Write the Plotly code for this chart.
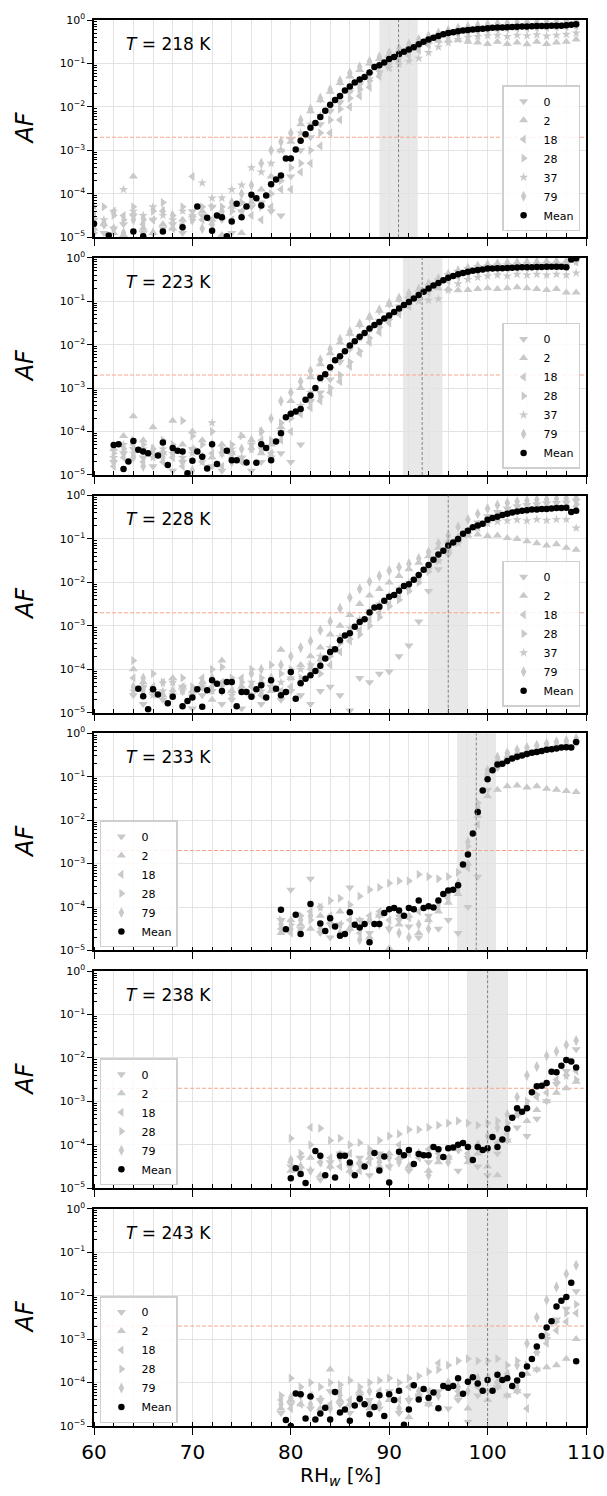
import plotly.graph_objects as go
from plotly.subplots import make_subplots

TEMPS = [218, 223, 228, 233, 238, 243]
BAND_LO = [89.0, 91.4, 94.0, 96.9, 98.0, 98.0]
BAND_HI = [92.9, 95.4, 98.0, 100.85, 102.0, 102.0]
BAND_MID = [90.95, 93.35, 96.0, 98.85, 100.0, 100.0]
THRESHOLD_AF = 2e-3
GRAY_RH_START = [60, 62, 64, 79, 80, 79]
Y_TICK_VALS = [1e-5, 1e-4, 1e-3, 1e-2, 1e-1, 1]
Y_TICK_TEXT = ["10<sup>\u22125</sup>", "10<sup>\u22124</sup>", "10<sup>\u22123</sup>",
               "10<sup>\u22122</sup>", "10<sup>\u22121</sup>", "10<sup>0</sup>"]

# ---------------- Mean series (log10 AF) ----------------
RH_MEAN_218 = [60, 61.5, 64, 65, 67, 69, 70.5, 71.5, 72, 72.5, 73, 73.5, 74, 74.5, 75, 75.5, 76, 76.5, 77, 77.5,
               78, 78.5, 79, 79.5, 80, 80.5, 81, 81.5, 82, 82.5, 83, 83.5, 84, 84.5, 85, 85.5, 86, 86.5, 87, 87.5,
               88, 88.5, 89, 89.5, 90, 90.5, 91, 91.5, 92, 92.5, 93, 93.5, 94, 94.5, 95, 95.5, 96, 96.5, 97, 97.5,
               98, 98.5, 99, 99.5, 100, 100.5, 101, 101.5, 102, 102.5, 103, 103.5, 104, 104.5, 105, 105.5, 106,
               106.5, 107, 107.5, 108, 108.5, 109]
LOG_MEAN_218 = [-4.69, -4.96, -4.87, -4.98, -4.87, -4.77, -4.29, -4.55, -4.85, -4.50, -4.54, -4.98, -4.64, -4.23,
                -4.54, -4.29, -4.02, -4.10, -4.27, -4.04, -3.78, -3.67, -3.58, -3.19, -3.19, -2.98, -2.78, -2.63,
                -2.48, -2.37, -2.23, -2.09, -1.95, -1.84, -1.75, -1.62, -1.53, -1.44, -1.37, -1.31, -1.21, -1.08,
                -1.04, -0.98, -0.90, -0.85, -0.78, -0.73, -0.68, -0.63, -0.56, -0.50, -0.45, -0.41, -0.37, -0.33,
                -0.30, -0.28, -0.26, -0.24, -0.23, -0.22, -0.21, -0.20, -0.19, -0.18, -0.175, -0.17, -0.165, -0.16,
                -0.155, -0.15, -0.15, -0.145, -0.14, -0.14, -0.14, -0.135, -0.13, -0.13, -0.12, -0.11, -0.10]

RH_MEAN_223 = [62, 62.5, 63, 63.5, 64, 64.5, 65, 65.5, 66.5, 67, 67.5, 68, 68.5, 69, 69.5, 70, 70.5, 71, 71.5, 72,
               72.5, 73.5, 74, 74.5, 75.5, 76.5, 77, 77.5, 78, 78.5, 79, 79.5, 80, 80.5, 81, 81.5, 82, 82.5, 83,
               83.5, 84, 84.5, 85, 85.5, 86, 86.5, 87, 87.5, 88, 88.5, 89, 89.5, 90, 90.5, 91, 91.5, 92, 92.5, 93,
               93.5, 94, 94.5, 95, 95.5, 96, 96.5, 97, 97.5, 98, 98.5, 99, 99.5, 100, 100.5, 101, 101.5, 102,
               102.5, 103, 103.5, 104, 104.5, 105, 105.5, 106, 106.5, 107, 107.5, 108, 108.5, 109]
LOG_MEAN_223 = [-4.31, -4.29, -4.86, -4.69, -4.22, -4.42, -4.46, -4.50, -4.55, -4.25, -4.77, -4.38, -4.44, -4.46,
                -4.96, -4.67, -4.46, -4.58, -4.85, -4.29, -4.75, -4.44, -4.66, -4.66, -4.71, -4.72, -4.29, -4.38,
                -4.66, -4.23, -4.04, -3.67, -3.59, -3.54, -3.48, -3.27, -3.17, -3.00, -2.77, -2.68, -2.52, -2.36,
                -2.27, -2.15, -2.02, -1.92, -1.82, -1.73, -1.63, -1.55, -1.48, -1.40, -1.33, -1.25, -1.17, -1.09,
                -1.02, -0.94, -0.86, -0.78, -0.71, -0.64, -0.58, -0.52, -0.46, -0.42, -0.38, -0.35, -0.32, -0.30,
                -0.28, -0.27, -0.25, -0.25, -0.24, -0.24, -0.235, -0.23, -0.225, -0.22, -0.22, -0.22, -0.215,
                -0.215, -0.21, -0.21, -0.21, -0.21, -0.22, -0.04, -0.01]

RH_MEAN_228 = [64.5, 65, 65.5, 66, 66.5, 67.5, 68, 69, 69.5, 70, 70.5, 71, 71.5, 72, 72.5, 73, 73.5, 74, 74.5, 75,
               75.5, 76, 76.5, 77, 77.5, 78, 78.5, 79, 79.5, 80, 80.5, 81, 81.5, 82, 82.5, 83, 83.5, 84, 84.5, 85,
               85.5, 86, 86.5, 87, 87.5, 88, 88.5, 89, 89.5, 90, 90.5, 91, 91.5, 92, 92.5, 93, 93.5, 94, 94.5, 95,
               95.5, 96, 96.5, 97, 97.5, 98, 98.5, 99, 99.5, 100, 100.5, 101, 101.5, 102, 102.5, 103, 103.5, 104,
               104.5, 105, 105.5, 106, 106.5, 107, 107.5, 108, 108.5, 109]
LOG_MEAN_228 = [-4.45, -4.62, -4.92, -4.46, -4.58, -4.78, -4.63, -4.85, -4.73, -4.65, -4.46, -4.86, -4.48, -4.25,
                -4.33, -4.50, -4.29, -4.29, -4.85, -4.52, -4.52, -4.63, -4.46, -4.37, -4.65, -4.25, -4.45, -4.60,
                -4.52, -4.06, -4.68, -4.32, -4.22, -4.14, -4.04, -3.92, -3.75, -3.60, -3.54, -3.33, -3.22, -3.17,
                -3.02, -2.91, -2.85, -2.69, -2.58, -2.56, -2.42, -2.33, -2.29, -2.19, -2.08, -2.04, -1.94, -1.83,
                -1.71, -1.60, -1.48, -1.36, -1.27, -1.15, -1.08, -1.00, -0.88, -0.81, -0.73, -0.69, -0.65, -0.56,
                -0.52, -0.49, -0.45, -0.42, -0.39, -0.37, -0.35, -0.34, -0.32, -0.32, -0.31, -0.31, -0.30, -0.29,
                -0.29, -0.28, -0.38, -0.35]

RH_MEAN_233 = [79, 79.5, 80.5, 81, 82, 83, 83.5, 84, 84.5, 85, 85.5, 86, 86.5, 87, 87.5, 88, 88.5, 89, 89.5, 90,
               90.5, 91, 91.5, 92, 92.5, 93, 93.5, 94, 94.5, 95, 95.5, 96, 96.5, 97, 97.5, 98, 98.5, 99, 99.5, 100,
               100.5, 101, 101.5, 102, 102.5, 103, 103.5, 104, 104.5, 105, 105.5, 106, 106.5, 107, 107.5, 108,
               108.5, 109]
LOG_MEAN_233 = [-4.06, -4.51, -4.18, -4.62, -3.93, -4.38, -4.55, -4.26, -4.45, -4.66, -4.62, -4.12, -4.41, -4.47,
                -4.39, -4.81, -4.39, -4.39, -4.14, -4.05, -4.02, -4.08, -4.20, -4.02, -4.05, -3.85, -4.02, -3.98,
                -4.01, -3.85, -3.70, -3.62, -3.60, -3.50, -3.02, -2.79, -2.31, -1.81, -1.32, -1.06, -0.85, -0.72,
                -0.70, -0.64, -0.58, -0.54, -0.51, -0.48, -0.45, -0.43, -0.41, -0.38, -0.37, -0.35, -0.33, -0.32,
                -0.33, -0.20]

RH_MEAN_238 = [80, 80.5, 81, 81.5, 82.5, 83, 83.5, 84.5, 85, 85.5, 86, 86.5, 87.5, 88.5, 89, 89.5, 90, 91, 91.5,
               92, 92.5, 93, 93.5, 94, 94.5, 95, 95.5, 96, 96.5, 97, 97.5, 98, 98.5, 99, 99.5, 100, 100.5, 101,
               101.5, 102, 102.5, 103, 103.5, 104, 104.5, 105, 105.5, 106, 106.5, 107, 107.5, 108, 108.5, 109]
LOG_MEAN_238 = [-4.77, -4.54, -4.67, -4.88, -4.14, -4.25, -4.70, -4.75, -4.25, -4.25, -4.41, -4.70, -4.50, -4.19,
                -4.59, -4.27, -4.87, -4.16, -4.24, -4.12, -4.44, -4.21, -4.24, -4.24, -4.05, -4.10, -4.28, -4.08,
                -4.06, -4.00, -3.96, -4.05, -4.35, -4.05, -4.12, -4.08, -3.82, -4.05, -3.88, -3.63, -3.38, -3.16,
                -3.24, -3.16, -2.79, -2.65, -2.64, -2.58, -2.32, -2.33, -2.18, -2.05, -2.08, -2.22]

RH_MEAN_243 = [79.5, 80, 80.5, 81, 81.5, 82, 82.5, 83, 83.5, 84, 84.5, 85, 85.5, 86, 86.5, 87, 87.5, 88, 88.5, 89,
               89.5, 90, 90.5, 91, 91.5, 92, 92.5, 93, 93.5, 94, 94.5, 95, 95.5, 96, 96.5, 97, 97.5, 98, 98.5, 99,
               99.5, 100, 100.5, 101, 101.5, 102, 102.5, 103, 103.5, 104, 104.5, 105, 105.5, 106, 106.5, 107,
               107.5, 108, 108.5, 109]
LOG_MEAN_243 = [-4.86, -5.00, -4.25, -4.27, -4.83, -4.32, -4.85, -4.71, -4.58, -4.85, -4.22, -4.69, -4.62, -4.88,
                -4.53, -4.37, -4.50, -4.73, -4.56, -4.29, -4.77, -4.27, -4.40, -4.19, -4.97, -4.62, -4.06, -4.39,
                -4.15, -4.35, -4.23, -4.59, -4.08, -4.12, -4.08, -3.90, -4.26, -3.98, -3.88, -4.02, -4.19, -3.94,
                -4.19, -3.82, -3.94, -3.90, -4.08, -3.95, -3.82, -3.63, -3.46, -3.17, -2.93, -2.73, -2.59, -2.25,
                -2.12, -2.03, -1.70, -3.51]

# ---------------- Individual runs (log10 AF, 1 % RH bins) ----------------
# T = 218 K, RH 60..109
L218_0 = [-4.6, -4.9, -4.8, -4.7, -4.5, -4.9, -4.6, -4.8, -4.7, -4.9, -4.4, -4.5, -4.3, -4.6, -4.9, -4.4, -4.3, -4.2,
          -4.4, -4.5, -3.6, -3.0, -2.7, -2.4, -2.1, -1.9, -1.65, -1.45, -1.25, -1.05, -0.9, -0.78, -0.66, -0.55,
          -0.45, -0.36, -0.3, -0.25, -0.22, -0.2, -0.18, -0.16, -0.15, -0.14, -0.13, -0.12, -0.12, -0.11, -0.1, -0.08]
L218_2 = [-4.8, -4.7, -4.9, -4.95, -3.6, -4.8, -4.9, -4.7, -4.8, -4.6, -4.5, -4.4, -4.6, -4.95, -4.3, -4.9, -4.2,
          -3.9, -3.6, -3.0, -2.8, -2.4, -2.1, -1.85, -1.65, -1.45, -1.3, -1.15, -1.0, -0.9, -0.8, -0.7, -0.62,
          -0.55, -0.5, -0.48, -0.47, -0.46, -0.5, -0.52, -0.55, -0.5, -0.55, -0.52, -0.56, -0.5, -0.55, -0.52,
          -0.5, -0.45]
L218_18 = [-4.5, -4.7, -4.4, -4.5, -4.5, -4.7, -4.6, -4.4, -4.8, -4.7, -3.6, -4.6, -4.7, -4.5, -4.6, -4.4, -4.5,
           -4.6, -4.3, -3.9, -3.9, -3.5, -3.3, -2.9, -2.6, -2.3, -2.0, -1.75, -1.55, -1.3, -1.1, -0.95, -0.82,
           -0.7, -0.58, -0.47, -0.38, -0.32, -0.28, -0.25, -0.23, -0.21, -0.2, -0.19, -0.18, -0.17, -0.17, -0.16,
           -0.15, -0.13]
L218_28 = [-4.9, -4.3, -4.5, -4.6, -4.3, -4.6, -4.4, -4.2, -4.5, -4.3, -4.6, -4.3, -4.3, -4.3, -4.4, -4.2, -4.1,
           -4.3, -4.0, -3.7, -3.4, -3.3, -3.0, -2.6, -2.3, -2.05, -1.8, -1.6, -1.4, -1.2, -1.0, -0.85, -0.73,
           -0.6, -0.5, -0.4, -0.33, -0.28, -0.24, -0.22, -0.2, -0.18, -0.17, -0.16, -0.15, -0.15, -0.14, -0.14,
           -0.13, -0.12]
L218_37 = [-4.3, -4.6, -4.4, -3.9, -4.4, -4.5, -4.3, -4.5, -4.6, -4.4, -4.5, -3.75, -4.1, -4.1, -3.9, -3.8, -3.4,
           -3.5, -3.3, -3.0, -2.75, -2.6, -2.4, -2.2, -2.0, -1.8, -1.6, -1.5, -1.35, -1.2, -1.1, -1.02, -0.95,
           -0.88, -0.75, -0.62, -0.52, -0.45, -0.4, -0.38, -0.36, -0.35, -0.38, -0.35, -0.36, -0.34, -0.37, -0.35,
           -0.33, -0.3]
L218_79 = [-4.9, -4.7, -4.8, -4.9, -4.6, -4.8, -4.9, -4.4, -4.5, -4.8, -4.6, -4.8, -4.7, -4.4, -4.2, -4.0, -3.8,
           -3.3, -3.0, -2.8, -2.6, -2.3, -2.05, -1.8, -1.6, -1.4, -1.22, -1.08, -0.95, -0.85, -0.75, -0.65, -0.55,
           -0.45, -0.37, -0.3, -0.24, -0.19, -0.15, -0.12, -0.1, -0.08, -0.07, -0.06, -0.05, -0.05, -0.04, -0.04,
           -0.03, -0.03]

# T = 223 K, RH 62..109
L223_0 = [-4.7, -4.5, -4.4, -4.6, -4.8, -4.5, -4.9, -4.7, -4.4, -4.6, -4.8, -4.9, -4.5, -4.6, -4.9, -4.7, -4.6,
          -4.5, -4.7, -4.3, -3.3, -3.1, -2.8, -2.4, -2.1, -1.85, -1.65, -1.45, -1.3, -1.12, -0.95, -0.8, -0.66,
          -0.52, -0.4, -0.32, -0.26, -0.22, -0.2, -0.18, -0.17, -0.16, -0.15, -0.15, -0.14, -0.14, -0.13, -0.05]
L223_2 = [-4.4, -4.1, -3.65, -4.2, -3.9, -4.5, -3.75, -4.3, -4.0, -4.2, -4.6, -4.3, -4.5, -4.1, -4.2, -4.5, -4.3,
          -3.9, -3.3, -3.0, -2.75, -2.45, -2.2, -1.95, -1.75, -1.55, -1.38, -1.22, -1.08, -0.97, -0.88, -0.8,
          -0.74, -0.7, -0.72, -0.75, -0.74, -0.72, -0.7, -0.72, -0.7, -0.68, -0.7, -0.72, -0.74, -0.72, -0.8, -0.8]
L223_18 = [-4.8, -4.6, -4.3, -4.7, -4.5, -4.7, -4.6, -4.8, -4.4, -4.7, -4.5, -4.8, -4.6, -4.7, -4.4, -4.2, -4.5,
           -4.2, -4.0, -3.6, -3.45, -3.3, -3.1, -2.85, -2.5, -2.2, -1.95, -1.72, -1.5, -1.3, -1.12, -0.95, -0.8,
           -0.66, -0.54, -0.44, -0.37, -0.32, -0.28, -0.26, -0.24, -0.23, -0.22, -0.21, -0.21, -0.2, -0.2, -0.1]
L223_28 = [-4.5, -4.4, -4.2, -4.3, -4.4, -4.2, -4.3, -3.75, -4.1, -4.3, -4.0, -4.4, -4.3, -4.1, -4.4, -4.0, -4.2,
           -3.8, -3.7, -3.5, -3.3, -3.2, -3.0, -2.7, -2.4, -2.15, -1.85, -1.6, -1.42, -1.22, -1.05, -0.88,
           -0.72, -0.58, -0.46, -0.37, -0.3, -0.26, -0.23, -0.21, -0.2, -0.19, -0.18, -0.17, -0.17, -0.16, -0.16,
           -0.08]
L223_37 = [-4.6, -4.3, -4.5, -4.4, -4.6, -4.4, -4.5, -4.6, -4.5, -4.7, -3.8, -4.5, -4.4, -4.6, -4.3, -4.4, -4.5,
           -4.0, -3.6, -3.4, -3.1, -2.8, -2.55, -2.3, -2.05, -1.85, -1.65, -1.5, -1.35, -1.22, -1.1, -1.0, -0.98,
           -0.95, -0.75, -0.6, -0.5, -0.45, -0.42, -0.4, -0.42, -0.38, -0.4, -0.38, -0.4, -0.38, -0.4, -0.35]
L223_79 = [-4.7, -4.5, -4.6, -4.8, -4.4, -4.6, -4.5, -4.7, -4.9, -4.6, -4.3, -4.5, -4.7, -4.4, -4.2, -4.0, -3.7,
           -3.3, -3.1, -2.85, -2.6, -2.35, -2.1, -1.88, -1.7, -1.52, -1.36, -1.2, -1.05, -0.93, -0.82, -0.72, -0.6,
           -0.48, -0.38, -0.3, -0.24, -0.19, -0.16, -0.14, -0.12, -0.11, -0.1, -0.1, -0.09, -0.09, -0.08, -0.03]

# T = 228 K, RH 64..109
L228_0 = [-4.6, -4.8, -4.5, -4.7, -4.6, -4.4, -4.9, -4.6, -4.5, -4.8, -4.7, -4.9, -4.6, -4.8, -4.4, -4.7, -4.5,
          -4.6, -4.8, -4.5, -4.4, -4.6, -4.95, -4.2, -4.3, -4.1, -4.05, -3.7, -3.45, -2.9, -2.2, -1.7, -1.35,
          -1.05, -0.8, -0.62, -0.48, -0.38, -0.3, -0.25, -0.22, -0.2, -0.18, -0.17, -0.16, -0.12]
L228_2 = [-4.0, -4.3, -4.5, -4.6, -4.2, -4.4, -4.5, -4.3, -4.7, -3.8, -4.5, -4.4, -4.6, -4.3, -4.5, -3.55, -4.2,
          -3.9, -3.7, -3.5, -3.2, -3.0, -2.75, -2.5, -2.3, -2.15, -2.0, -1.85, -1.7, -1.55, -1.4, -1.2, -1.05,
          -0.95, -0.92, -0.9, -0.93, -0.92, -0.98, -1.0, -1.05, -1.1, -1.15, -1.12, -1.2, -1.25]
L228_18 = [-4.2, -4.5, -4.4, -4.3, -4.5, -4.4, -4.6, -4.2, -4.4, -4.3, -4.5, -4.2, -4.4, -4.6, -4.3, -4.5, -4.4,
           -4.3, -4.0, -3.8, -3.9, -3.6, -3.35, -3.1, -2.85, -2.7, -2.5, -2.35, -2.15, -1.95, -1.7, -1.45, -1.2,
           -1.0, -0.8, -0.65, -0.52, -0.44, -0.38, -0.33, -0.3, -0.28, -0.27, -0.26, -0.25, -0.25]
L228_28 = [-3.8, -4.4, -4.1, -4.3, -4.5, -4.2, -4.4, -4.3, -4.0, -3.95, -4.2, -4.3, -4.0, -4.2, -3.9, -4.1, -4.0,
           -4.2, -3.9, -4.1, -3.7, -3.4, -3.3, -3.2, -3.0, -2.8, -2.55, -2.4, -2.2, -2.0, -1.75, -1.5, -1.25,
           -1.05, -0.85, -0.7, -0.55, -0.45, -0.37, -0.32, -0.28, -0.26, -0.25, -0.24, -0.23, -0.2]
L228_37 = [-4.5, -4.4, -4.6, -4.5, -4.3, -4.5, -4.6, -4.4, -4.5, -4.4, -4.6, -4.5, -4.3, -4.5, -4.4, -4.3, -4.2,
           -4.0, -3.9, -3.7, -3.5, -3.25, -3.05, -2.85, -2.65, -2.5, -2.3, -2.15, -2.0, -1.85, -1.7, -1.5, -1.3,
           -1.1, -0.9, -0.75, -0.65, -0.6, -0.58, -0.56, -0.58, -0.55, -0.57, -0.55, -0.55, -0.75]
L228_79 = [-4.4, -4.2, -4.5, -4.6, -4.3, -4.5, -4.6, -4.4, -4.2, -4.5, -4.3, -4.4, -4.1, -4.0, -4.2, -3.9, -3.7,
           -3.5, -3.35, -3.1, -2.9, -2.6, -2.35, -2.15, -1.98, -1.85, -1.73, -1.65, -1.57, -1.45, -1.3, -1.1,
           -0.92, -0.72, -0.55, -0.42, -0.3, -0.22, -0.17, -0.14, -0.12, -0.1, -0.09, -0.08, -0.07, -0.06]

# T = 233 K, RH 79..109
L233_0 = [-4.3, -3.6, -4.5, -3.35, -4.6, -4.7, -4.4, -3.55, -4.3, -4.6, -4.2, -4.5, -4.3, -4.45, -4.7, -4.2, -4.5,
          -4.3, -4.6, -4.0, -3.3, -1.3, -0.8, -0.65, -0.55, -0.48, -0.42, -0.37, -0.33, -0.3, -0.22]
L233_2 = [-4.6, -4.3, -4.4, -4.5, -4.2, -4.35, -4.1, -4.5, -4.3, -4.7, -4.2, -4.95, -4.4, -4.2, -4.6, -4.3, -4.1,
          -3.9, -3.7, -3.0, -1.9, -1.45, -1.3, -1.22, -1.2, -1.25, -1.22, -1.28, -1.3, -1.33, -1.35]
L233_18 = [-4.5, -4.6, -4.55, -4.1, -4.0, -4.2, -4.4, -4.3, -4.6, -4.2, -4.1, -4.3, -4.2, -4.25, -4.1, -4.3, -4.0,
           -3.8, -3.6, -3.1, -2.1, -0.95, -0.65, -0.55, -0.48, -0.43, -0.38, -0.34, -0.3, -0.28, -0.2]
L233_28 = [-4.3, -4.4, -4.2, -4.3, -4.0, -3.85, -3.8, -3.95, -3.75, -3.6, -3.55, -3.45, -3.4, -3.4, -3.25, -3.3,
           -3.35, -3.3, -3.2, -2.6, -1.6, -0.9, -0.62, -0.52, -0.45, -0.4, -0.36, -0.32, -0.29, -0.26, -0.18]
L233_79 = [-4.4, -4.5, -4.3, -4.2, -4.5, -4.4, -4.6, -4.5, -4.75, -4.3, -4.4, -4.5, -4.6, -4.7, -4.4, -4.5, -3.9,
           -3.7, -3.45, -2.5, -1.7, -0.85, -0.55, -0.45, -0.38, -0.33, -0.28, -0.24, -0.2, -0.17, -0.12]

# T = 238 K, RH 80..109
L238_0 = [-4.5, -4.3, -4.6, -4.8, -4.4, -4.2, -4.5, -4.3, -4.7, -4.2, -4.5, -4.35, -4.6, -4.2, -4.4, -4.1, -4.3,
          -4.6, -4.3, -4.5, -4.7, -4.2, -3.9, -3.6, -3.8, -3.4, -3.0, -2.6, -2.3, -1.8]
L238_2 = [-4.6, -4.5, -4.3, -4.7, -4.5, -4.2, -4.6, -4.4, -4.3, -4.5, -4.2, -4.3, -4.5, -4.2, -4.6, -4.4, -4.3,
          -4.1, -4.4, -4.2, -4.5, -4.7, -3.9, -3.3, -3.45, -3.2, -3.0, -2.8, -2.7, -2.55]
L238_18 = [-4.4, -4.6, -3.6, -4.4, -4.3, -4.5, -4.2, -4.6, -4.4, -4.3, -4.5, -4.0, -4.2, -4.3, -4.1, -4.2, -4.3,
           -4.1, -4.2, -4.0, -4.1, -3.95, -3.75, -3.3, -3.1, -2.9, -2.8, -2.5, -2.4, -2.3]
L238_28 = [-3.85, -4.2, -4.0, -3.62, -3.9, -3.85, -4.0, -3.95, -4.1, -3.9, -3.8, -3.75, -3.65, -3.65, -3.6, -3.55,
           -3.5, -3.45, -3.5, -3.55, -3.5, -3.45, -3.5, -3.3, -3.0, -2.85, -2.6, -2.55, -2.4, -2.5]
L238_79 = [-4.35, -4.5, -4.6, -4.4, -4.5, -4.3, -4.6, -4.45, -4.2, -4.4, -4.3, -4.4, -4.5, -4.2, -4.7, -4.3, -4.4,
           -4.1, -4.3, -4.0, -3.8, -3.6, -3.3, -2.9, -2.4, -2.2, -1.95, -1.85, -1.7, -1.6]

# T = 243 K, RH 79..109
L243_0 = [-4.7, -4.5, -4.3, -4.6, -4.4, -4.2, -4.5, -4.7, -4.3, -4.4, -4.6, -4.2, -4.7, -4.4, -4.3, -4.5, -4.2,
          -4.6, -4.4, -4.9, -4.3, -4.2, -4.1, -4.3, -4.2, -4.3, -3.7, -3.0, -2.55, -2.3, -1.9]
L243_2 = [-4.6, -4.4, -4.5, -4.3, -4.6, -3.7, -4.4, -4.5, -4.2, -4.6, -4.3, -4.4, -4.2, -4.8, -4.3, -4.5, -4.6,
          -4.1, -4.3, -4.6, -4.0, -4.4, -4.1, -4.3, -4.2, -3.8, -3.7, -3.65, -3.6, -3.45, -3.0]
L243_18 = [-4.4, -4.6, -4.5, -4.3, -4.4, -4.5, -4.2, -4.4, -4.3, -4.5, -4.2, -4.3, -4.4, -4.1, -4.3, -4.2, -3.55,
           -4.1, -4.2, -4.0, -4.1, -3.9, -4.0, -3.8, -4.1, -4.6, -3.3, -3.1, -2.8, -2.6, -2.4]
L243_28 = [-4.3, -3.9, -4.1, -4.0, -4.1, -4.0, -4.05, -3.95, -4.1, -4.0, -3.95, -3.9, -4.0, -3.9, -3.85, -3.75,
           -3.7, -3.6, -3.5, -3.45, -3.5, -3.5, -3.45, -3.6, -3.5, -3.6, -3.3, -2.9, -2.6, -2.4, -2.2]
L243_79 = [-4.5, -4.35, -4.3, -4.5, -4.4, -4.6, -4.3, -4.5, -4.4, -4.2, -4.5, -4.3, -4.6, -4.4, -4.2, -4.4, -4.3,
           -4.0, -4.1, -4.2, -3.9, -3.9, -4.0, -3.8, -3.6, -3.1, -2.5, -2.1, -1.8, -1.5, -1.3]

MEANS = [(RH_MEAN_218, LOG_MEAN_218), (RH_MEAN_223, LOG_MEAN_223), (RH_MEAN_228, LOG_MEAN_228),
         (RH_MEAN_233, LOG_MEAN_233), (RH_MEAN_238, LOG_MEAN_238), (RH_MEAN_243, LOG_MEAN_243)]
RUNS = [
    [("0", L218_0), ("2", L218_2), ("18", L218_18), ("28", L218_28), ("37", L218_37), ("79", L218_79)],
    [("0", L223_0), ("2", L223_2), ("18", L223_18), ("28", L223_28), ("37", L223_37), ("79", L223_79)],
    [("0", L228_0), ("2", L228_2), ("18", L228_18), ("28", L228_28), ("37", L228_37), ("79", L228_79)],
    [("0", L233_0), ("2", L233_2), ("18", L233_18), ("28", L233_28), ("79", L233_79)],
    [("0", L238_0), ("2", L238_2), ("18", L238_18), ("28", L238_28), ("79", L238_79)],
    [("0", L243_0), ("2", L243_2), ("18", L243_18), ("28", L243_28), ("79", L243_79)],
]
SYMBOLS = {"0": "triangle-down", "2": "triangle-up", "18": "triangle-left", "28": "triangle-right",
           "37": "star", "79": "diamond-tall"}
SIZES = {"0": 8, "2": 8, "18": 8, "28": 8, "37": 7, "79": 8}

for (rx, ry), t in zip(MEANS, TEMPS):
    if len(rx) != len(ry):
        raise ValueError(f"mean length mismatch {t}: {len(rx)} vs {len(ry)}")
for runs, start, t in zip(RUNS, GRAY_RH_START, TEMPS):
    for lab, vals in runs:
        if len(vals) != 110 - start:
            raise ValueError(f"run length mismatch {t} {lab}: {len(vals)} vs {110 - start}")

FONT = "DejaVu Sans"
GRAY = "#c9c9c9"
N = len(TEMPS)

FIG_W, FIG_H = 607, 1496
M_L, M_R, M_T, M_B = 94, 21, 20, 70
H_PLOT = FIG_H - M_T - M_B
W_PLOT = FIG_W - M_L - M_R

fig = make_subplots(rows=N, cols=1, shared_xaxes=True, vertical_spacing=0.0146)

minor_y = [m * 10.0 ** e for e in range(-5, 0) for m in range(2, 10)]

annotations = []
for i, t in enumerate(TEMPS):
    row = i + 1
    lg = "legend" if row == 1 else f"legend{row}"
    start = GRAY_RH_START[i]
    fig.add_trace(go.Scatter(x=[60, 110], y=[THRESHOLD_AF, THRESHOLD_AF], mode="lines",
                             line=dict(color="#f7a68c", width=1, dash="4px,2px"),
                             showlegend=False, hoverinfo="skip"), row=row, col=1)
    for lab, vals in RUNS[i]:
        xs = list(range(start, 110))
        fig.add_trace(go.Scatter(x=xs, y=[10 ** v for v in vals], mode="markers", name=lab, legend=lg,
                                 marker=dict(symbol=SYMBOLS[lab], size=SIZES[lab], color=GRAY,
                                             line=dict(width=0))), row=row, col=1)
    rx, ry = MEANS[i]
    fig.add_trace(go.Scatter(x=rx, y=[10 ** v for v in ry], mode="markers", name="Mean", legend=lg,
                             marker=dict(symbol="circle", size=6.5, color="black", line=dict(width=0))),
                  row=row, col=1)

    xr = "x" if row == 1 else f"x{row}"
    yr = "y" if row == 1 else f"y{row}"
    fig.add_shape(type="rect", xref=xr, yref=f"{yr} domain", x0=BAND_LO[i], x1=BAND_HI[i], y0=0, y1=1,
                  fillcolor="rgba(180,180,180,0.3)", line=dict(width=0), layer="below")
    fig.add_shape(type="line", xref=xr, yref=f"{yr} domain", x0=BAND_MID[i], x1=BAND_MID[i], y0=0, y1=1,
                  line=dict(color="#808080", width=1, dash="3px,2px"), layer="above")
    annotations.append(dict(text=f"<i>T</i> = {t} K", xref=f"{xr} domain", yref=f"{yr} domain",
                            x=0.06, y=0.89, xanchor="left", yanchor="middle", showarrow=False,
                            font=dict(family=FONT, size=17, color="black")))

    fig.update_yaxes(type="log", range=[-5, 0], tickvals=Y_TICK_VALS, ticktext=Y_TICK_TEXT,
                     automargin=False,
                     ticks="outside", ticklen=5, tickwidth=1, tickcolor="black",
                     tickfont=dict(family=FONT, size=11, color="black"),
                     showline=True, linewidth=1.5, linecolor="black", mirror=True,
                     showgrid=True, gridcolor="#e3e3e3", gridwidth=1, zeroline=False,
                     minor=dict(tickmode="array", tickvals=minor_y, ticks="inside", ticklen=3,
                                tickwidth=0.8, tickcolor="black", showgrid=False),
                     row=row, col=1)
    fig.update_xaxes(range=[60, 110], tickmode="linear", tick0=60, dtick=10,
                     automargin=False,
                     ticks="outside", ticklen=7, tickwidth=1.2, tickcolor="black",
                     tickfont=dict(family=FONT, size=20, color="black"),
                     showticklabels=(row == N),
                     showline=True, linewidth=1.5, linecolor="black", mirror=True,
                     showgrid=True, gridcolor="#e3e3e3", gridwidth=1, zeroline=False,
                     minor=dict(tick0=60, dtick=2, ticks="inside", ticklen=4, tickwidth=1,
                                tickcolor="black", showgrid=True, gridcolor="#e3e3e3", gridwidth=1),
                     row=row, col=1)

layout_legends = {}
for i in range(N):
    row = i + 1
    yname = "yaxis" if row == 1 else f"yaxis{row}"
    dom = fig.layout[yname].domain
    lg = "legend" if row == 1 else f"legend{row}"
    common = dict(bgcolor="rgba(255,255,255,0.85)", bordercolor="#cfcfcf", borderwidth=1.5,
                  font=dict(family=FONT, size=11, color="black"), tracegroupgap=0, itemwidth=30,
                  yanchor="bottom", y=dom[0] + 6 / H_PLOT)
    if i < 3:
        common.update(x=0.988, xanchor="right")
    else:
        common.update(x=0.012, xanchor="left", y=dom[0] + 3 / H_PLOT)
    layout_legends[lg] = common

    annotations.append(dict(text="<i>AF</i>", xref="paper", yref="paper", x=-69 / W_PLOT,
                            y=(dom[0] + dom[1]) / 2, xanchor="center", yanchor="middle", textangle=-90,
                            showarrow=False, font=dict(family=FONT, size=24, color="black")))

annotations.append(dict(text="RH<sub><i>w</i></sub> [%]", xref="paper", yref="paper", x=0.5, y=-50 / H_PLOT,
                        xanchor="center", yanchor="middle", showarrow=False,
                        font=dict(family=FONT, size=20, color="black")))

fig.update_layout(width=FIG_W, height=FIG_H, margin=dict(l=M_L, r=M_R, t=M_T, b=M_B, autoexpand=False),
                  plot_bgcolor="white", paper_bgcolor="white",
                  font=dict(family=FONT, color="black"),
                  annotations=annotations, **layout_legends)

# remove the browser's default 8 px body margin so the 607x1496 figure fills the window exactly
fig.write_html("out.html", config={"displayModeBar": False},
               post_script="document.body.style.margin='0';")
